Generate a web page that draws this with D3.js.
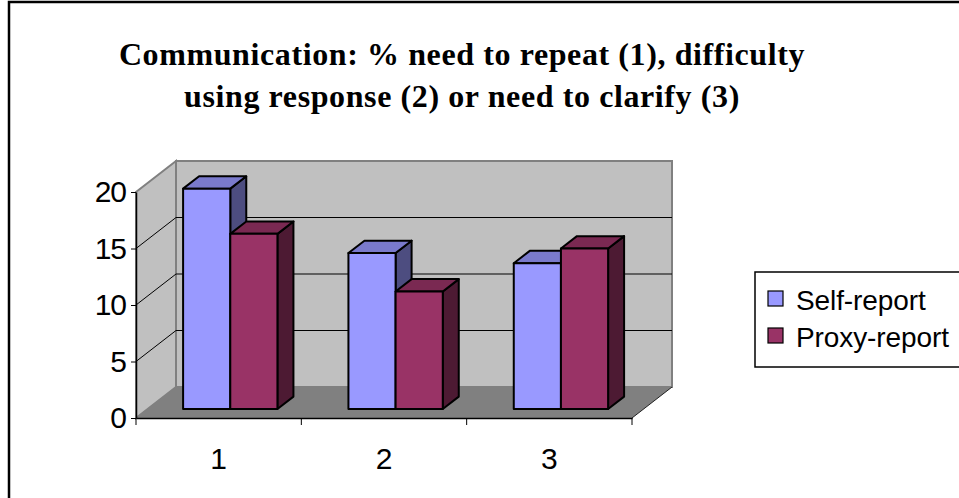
<!DOCTYPE html>
<html>
<head>
<meta charset="utf-8">
<script src="https://cdn.jsdelivr.net/npm/d3@7"></script>
<style>
  body { margin: 0; background: #fff; }
  svg { display: block; }
</style>
</head>
<body>
<div id="chart"></div>
<script>
// chart data
const categories = ["1", "2", "3"];
const seriesNames = ["Self-report", "Proxy-report"];
const selfReport = [19.5, 13.8, 12.9];
const proxyReport = [15.5, 10.4, 14.2];
const yTicks = [0, 5, 10, 15, 20];
const titleLines = [
    "Communication: % need to repeat (1), difficulty",
    "using response (2) or need to clarify (3)"
];

// colours per series: front, top, side
const faceColors = [
    {front: "#9999ff", top: "#7a7acc", side: "#4d4d80"},
    {front: "#993366", top: "#7a2952", side: "#4d1a33"}
];

const width = 959, height = 498;
const plot = {left: 136, right: 632, bottom: 418, top: 192};
const depth = {dx: 40, dy: -31};
const barDepth = {front: 0.29, back: 0.69};

const svg = d3.select("#chart")
    .append("svg")
        .attr("width", width)
        .attr("height", height);

svg.append("rect")
    .attr("width", width).attr("height", height)
    .attr("fill", "#fff");

// outer frame (cut off on the right and bottom)
svg.append("path")
    .attr("d", `M9,${height + 5} L9,2 L${width + 5},2`)
    .attr("fill", "none")
    .attr("stroke", "#000")
    .attr("stroke-width", 2.5);

// title
svg.append("g")
    .selectAll("text")
    .data(titleLines)
    .join("text")
        .attr("x", 462)
        .attr("y", (d, i) => 65 + i * 42)
        .attr("text-anchor", "middle")
        .style("font-family", "'Liberation Serif', 'Times New Roman', serif")
        .style("font-weight", "bold")
        .style("font-size", "32px")
        .style("letter-spacing", "0.6px")
        .text(d => d);

// scales
const y = d3.scaleLinear()
    .domain([0, 20])
    .range([plot.bottom, plot.top]);

const x = d3.scaleBand()
    .domain(categories)
    .range([plot.left, plot.right]);

const xs = d3.scaleBand()
    .domain(seriesNames)
    .range([35.5, x.bandwidth() - 35.5]);

// shift a point back into the depth of the chart
function proj(px, py, f) {
    return [px + depth.dx * f, py + depth.dy * f];
}
const line = pts => "M" + pts.map(p => p.join(",")).join("L") + "Z";

const y0 = y(0), yMax = y(d3.max(yTicks));

// back wall
svg.append("path")
    .attr("d", line([proj(plot.left, yMax, 1), proj(plot.right, yMax, 1),
                     proj(plot.right, y0, 1), proj(plot.left, y0, 1)]))
    .attr("fill", "#c0c0c0")
    .attr("stroke", "#808080")
    .attr("stroke-width", 2);

// side wall
svg.append("path")
    .attr("d", line([[plot.left, yMax], proj(plot.left, yMax, 1),
                     proj(plot.left, y0, 1), [plot.left, y0]]))
    .attr("fill", "#c0c0c0")
    .attr("stroke", "#808080")
    .attr("stroke-width", 2);

// floor
svg.append("path")
    .attr("d", line([[plot.left, y0], proj(plot.left, y0, 1),
                     proj(plot.right, y0, 1), [plot.right, y0]]))
    .attr("fill", "#808080");

svg.append("line")
    .attr("x1", plot.right).attr("y1", y0)
    .attr("x2", proj(plot.right, y0, 1)[0]).attr("y2", proj(plot.right, y0, 1)[1])
    .attr("stroke", "#222").attr("stroke-width", 1);

// gridlines on back wall and side wall
const grid = yTicks.filter(t => t > 0 && t < d3.max(yTicks));
svg.append("g")
    .selectAll("path")
    .data(grid)
    .join("path")
        .attr("d", t => "M" + [plot.left, y(t)].join(",") +
                        "L" + proj(plot.left, y(t), 1).join(",") +
                        "L" + proj(plot.right, y(t), 1).join(","))
        .attr("fill", "none")
        .attr("stroke", "#000")
        .attr("stroke-width", 1);

// bars
const bars = [];
categories.forEach((c, i) => {
    [selfReport, proxyReport].forEach((values, j) => {
        bars.push({cat: c, series: seriesNames[j], value: values[i], colors: faceColors[j]});
    });
});

const barG = svg.append("g")
    .attr("stroke", "#000")
    .attr("stroke-width", 2)
    .attr("stroke-linejoin", "round");

bars.forEach(d => {
    const x0 = x(d.cat) + xs(d.series);
    const x1 = x0 + xs.bandwidth();
    const yt = y(d.value);
    const f1 = barDepth.front, f2 = barDepth.back;

    barG.append("path")
        .attr("d", line([proj(x1, yt, f1), proj(x1, yt, f2), proj(x1, y0, f2), proj(x1, y0, f1)]))
        .attr("fill", d.colors.side);
    barG.append("path")
        .attr("d", line([proj(x0, yt, f1), proj(x1, yt, f1), proj(x1, yt, f2), proj(x0, yt, f2)]))
        .attr("fill", d.colors.top);
    barG.append("path")
        .attr("d", line([proj(x0, yt, f1), proj(x1, yt, f1), proj(x1, y0, f1), proj(x0, y0, f1)]))
        .attr("fill", d.colors.front);
});

// y axis
const yAxis = svg.append("g")
    .attr("transform", `translate(${plot.left},0)`)
    .call(d3.axisLeft(y).tickValues(yTicks).tickSize(5).tickPadding(5).tickSizeOuter(0));
yAxis.select(".domain").attr("stroke", "#000").attr("stroke-width", 1.5);
yAxis.selectAll(".tick line").attr("stroke", "#000");
yAxis.selectAll("text")
    .style("font-family", "'Liberation Sans', Arial, sans-serif")
    .style("font-size", "30px")
    .style("letter-spacing", "-1px")
    .attr("fill", "#000");

// x axis: labels at centres, tick marks at category boundaries
const xAxis = svg.append("g")
    .attr("transform", `translate(0,${y0})`)
    .call(d3.axisBottom(x).tickSize(0).tickPadding(30));
xAxis.select(".domain").attr("stroke", "#000").attr("stroke-width", 1.5);
xAxis.selectAll("text")
    .style("font-family", "'Liberation Sans', Arial, sans-serif")
    .style("font-size", "30px")
    .attr("fill", "#000");

const boundaries = categories.map(c => x(c)).concat([x.range()[1]]);
svg.append("g")
    .selectAll("line")
    .data(boundaries)
    .join("line")
        .attr("x1", d => d).attr("x2", d => d)
        .attr("y1", y0).attr("y2", y0 + 7)
        .attr("stroke", "#000")
        .attr("stroke-width", 1);

// legend
const legend = svg.append("g").attr("transform", "translate(755,272)");
legend.append("rect")
    .attr("width", 230).attr("height", 95)
    .attr("fill", "#fff")
    .attr("stroke", "#000")
    .attr("stroke-width", 1.5);

const items = legend.selectAll("g.item")
    .data(seriesNames)
    .join("g")
        .attr("class", "item")
        .attr("transform", (d, i) => `translate(13,${19 + i * 37})`);
items.append("rect")
    .attr("width", 15).attr("height", 15)
    .attr("fill", (d, i) => faceColors[i].front)
    .attr("stroke", "#000")
    .attr("stroke-width", 1.2);
items.append("text")
    .attr("x", 28)
    .attr("y", 19)
    .style("font-family", "'Liberation Sans', Arial, sans-serif")
    .style("font-size", "28px")
    .style("letter-spacing", "-0.1px")
    .text(d => d);
</script>
</body>
</html>
